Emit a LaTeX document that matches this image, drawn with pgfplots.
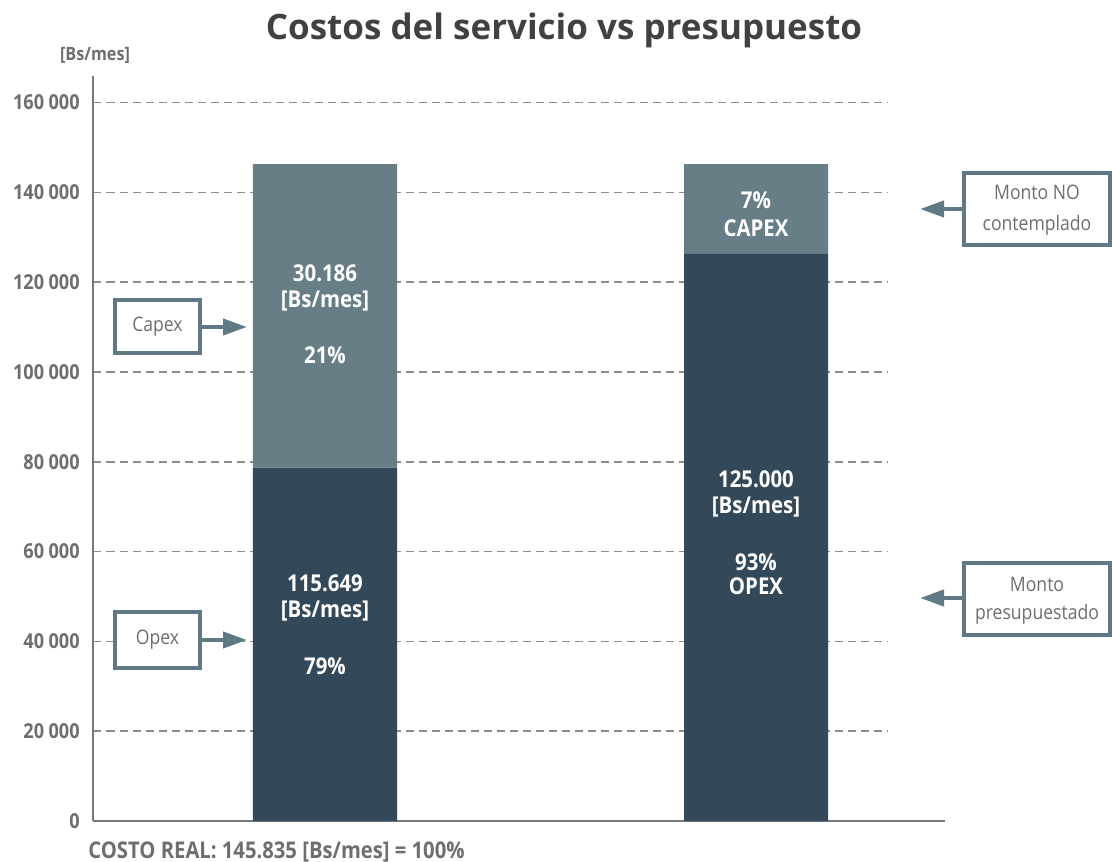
\documentclass[border=0pt]{standalone}
\usepackage{fontspec}
\setmainfont{Open Sans}
\newfontfamily\cond{Open Sans}[FakeStretch=0.88]
\usepackage{pgfplots}
\pgfplotsset{compat=1.18}
\usetikzlibrary{arrows.meta}

\definecolor{barDark}{HTML}{334858}
\definecolor{barLight}{HTML}{677E87}
\definecolor{txtGray}{HTML}{6D6E71}
\definecolor{titleGray}{HTML}{414042}
\definecolor{axGray}{HTML}{77787B}
\definecolor{gridGray}{HTML}{8C8C8C}
\definecolor{boxEdge}{HTML}{5F7A85}

\begin{document}
\begin{tikzpicture}
\begin{axis}[
    at={(0,0)}, anchor=south west,
    scale only axis,
    width=397.25pt, height=372.65pt,
    xmin=-0.537, xmax=1.306,
    ymin=0, ymax=166000,
    axis x line=bottom, axis y line=left,
    axis line style={axGray, line width=1pt, -},
    xtick=\empty,
    ytick={0,20000,...,160000},
    major tick length=0pt,
    ymajorgrids,
    grid style={gridGray, line width=0.75pt, dash pattern=on 4pt off 2.5pt},
    scaled y ticks=false,
    /pgf/number format/fixed,
    /pgf/number format/1000 sep={\kern2.2pt},
    /pgf/number format/assume math mode=true,
    yticklabel style={font=\cond\bfseries\fontsize{10.3}{11}\selectfont, text=txtGray, inner sep=0pt, xshift=-6.75pt},
    ybar stacked, bar width=72pt,
    clip=false,
]
% Opex (bottom) and Capex (top) parts
\addplot[fill=barDark, draw=none] coordinates {(0,78700) (1,126300)};
\addplot[fill=barLight, draw=none] coordinates {(0,67600) (1,20000)};
\end{axis}

% annotations, in pixel units of the reference
\begin{scope}[shift={(-46.75pt,410.5pt)}, x=0.5pt, y=-0.5pt]
\path (0,0) rectangle (1112,861);
\draw[axGray, line width=1pt] (887,821) -- (945,821);

\node[font=\bfseries\fontsize{17.5}{20}\selectfont, text=titleGray] at (564,30) {Costos del servicio vs presupuesto};
\node[font=\cond\bfseries\fontsize{9.2}{10}\selectfont, text=txtGray] at (95,55) {[Bs/mes]};
\node[font=\cond\bfseries\fontsize{11.5}{13}\selectfont, text=txtGray, anchor=base west, inner sep=0pt] at (88,858) {COSTO REAL: 145.835 [Bs/mes] = 100\%};

% bar labels
\tikzset{bl/.style={font=\cond\bfseries\fontsize{11.6}{13}\selectfont, text=white}}
\node[bl] at (325,273) {30.186};
\node[bl] at (325,301) {[Bs/mes]};
\node[bl] at (325,355) {21\%};
\node[bl] at (325,583) {115.649};
\node[bl] at (325,611) {[Bs/mes]};
\node[bl] at (325,666) {79\%};
\node[bl] at (756,200) {7\%};
\node[bl] at (756,228) {CAPEX};
\node[bl] at (756,479) {125.000};
\node[bl] at (756,507) {[Bs/mes]};
\node[bl] at (756,562) {93\%};
\node[bl] at (756,586) {OPEX};

% callout boxes
\tikzset{bx/.style={draw=boxEdge, line width=1.7pt, fill=white},
         bt/.style={font=\cond\fontsize{10}{12}\selectfont, text=txtGray},
         ar/.style={boxEdge, line width=2pt, -{Triangle[length=12pt,width=8pt]}}}
\draw[bx] (115,300) rectangle (200,353);
\node[bt] at (157.5,326.5) {Capex};
\draw[ar] (200,327) -- (247,327);

\draw[bx] (115,612) rectangle (200,668);
\node[bt] at (157.5,640) {Opex};
\draw[ar] (200,640) -- (247,640);

\draw[bx] (964,173) rectangle (1110,245);
\node[bt] at (1037,192) {Monto NO};
\node[bt] at (1037,225) {contemplado};
\draw[ar] (964,209) -- (920,209);

\draw[bx] (964,563) rectangle (1110,635);
\node[bt] at (1037,584) {Monto};
\node[bt] at (1037,614) {presupuestado};
\draw[ar] (964,598) -- (920,598);
\end{scope}
\end{tikzpicture}
\end{document}
